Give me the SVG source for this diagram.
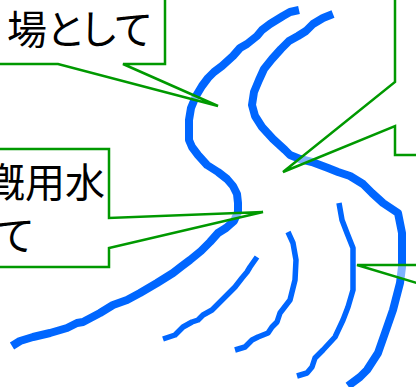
<svg xmlns="http://www.w3.org/2000/svg" width="416" height="387" viewBox="0 0 416 387">
  <style>
    .river { fill: none; stroke: #0066ff; stroke-linejoin: round; stroke-linecap: butt; }
    .thick { stroke-width: 8; }
    .thin { stroke-width: 5.5; }
    .callout { fill: #ffffff; fill-opacity: 0.5; stroke: #009900; stroke-width: 2.5; stroke-linejoin: miter; }
    .label { font-family: "Noto Sans CJK JP", "Noto Sans", sans-serif; font-size: 40px; fill: #000000; }
    .prop { font-feature-settings: "palt" 1; }
  </style>
  <rect width="416" height="387" fill="#ffffff"/>

  <!-- river banks and streams -->
  <g id="rivers">
    <polyline class="river thick" points="299,10 290,12 283,16 270,24 262,30 257,36 247,44 240,48 233,56 222,66 214,72 208,78 202,86 196,96 191,108 189,120 189,140 192,147 198,155 207,165 218,172 227,179 233,186 237,194 238,203 238,212 234,221 226,228 218,233 210,242 201,251 190,260 182,266 173,273 157,283 140,293 127,300 113,305 100,313 83,322 77,323 67,328 50,333 33,337 20,341 12,346"/>
    <polyline class="river thick" points="333,14 323,18 313,24 306,31 298,36 289,41 281,49 272,59 264,69 259,80 254,92 252,105 255,116 262,127 273,139 285,150 290,155 300,159 312,162 320,165 328,168 338,172 350,176 363,184 372,193 383,203 398,213 402,233 402,267 400,283 393,310 385,333 378,353 367,370 360,377 348,386"/>
    <polyline class="river thin" points="339,203 342,220 347,233 353,248 353,267 353,290 348,307 343,320 335,337 323,350 315,358 312,367 307,373 297,376"/>
    <polyline class="river thin" points="288,232 293,243 296,260 295,280 290,300 280,313 277,322 272,327 268,333 258,337 252,340 245,347 235,350"/>
    <polyline class="river thin" points="257,257 250,267 247,272 242,278 235,287 227,295 217,305 212,310 203,315 198,320 192,322 183,327 175,335 163,339"/>
  </g>

  <!-- callout: top left -->
  <g id="callout-playground">
    <path class="callout" d="M -10,-10 L 165,-10 L 165,64 L 123,64 L 218,106 L 58,64 L -10,64 Z"/>
    <text class="label prop" x="7" y="44">場として</text>
  </g>

  <!-- callout: top right -->
  <g id="callout-right-top">
    <path class="callout" d="M 425,-10 L 395,-10 L 395,82 L 283,172 L 395,126 L 395,155 L 425,155 Z"/>
  </g>

  <!-- callout: irrigation water -->
  <g id="callout-irrigation">
    <path class="callout" d="M -10,149 L 109,149 L 109,218 L 263,212 L 109,248 L 109,267 L -10,267 Z"/>
    <text class="label" x="-15" y="197">漑用水</text>
    <text class="label" x="-5" y="250">て</text>
  </g>

  <!-- callout: right middle -->
  <g id="callout-right-middle">
    <path class="callout" d="M 430,265 L 357,265 L 430,287"/>
  </g>
</svg>
